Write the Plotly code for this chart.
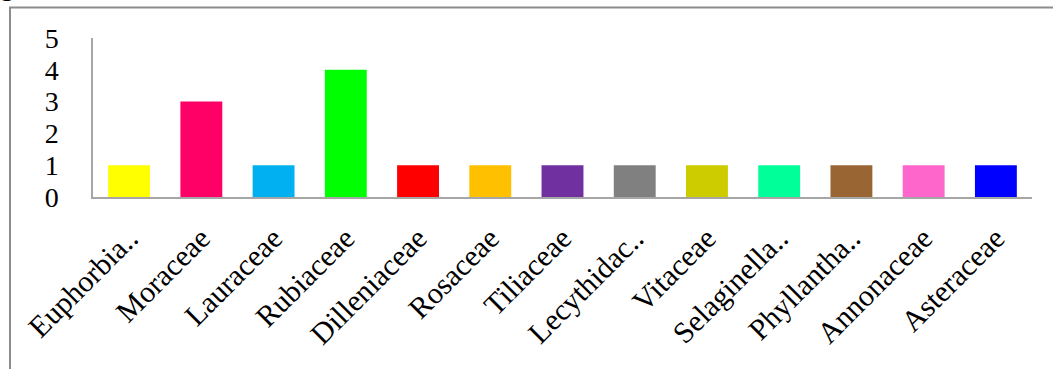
import plotly.graph_objects as go

families = ["Euphorbia..", "Moraceae", "Lauraceae", "Rubiaceae", "Dilleniaceae",
            "Rosaceae", "Tiliaceae", "Lecythidac..", "Vitaceae", "Selaginella..",
            "Phyllantha..", "Annonaceae", "Asteraceae"]
counts = [1, 3, 1, 4, 1, 1, 1, 1, 1, 1, 1, 1, 1]
colors = ["#FFFF00", "#FF0066", "#00B0F0", "#00FF00", "#FF0000",
          "#FFC000", "#7030A0", "#808080", "#CCCC00", "#00FF99",
          "#996633", "#FF66CC", "#0000FF"]
y_ticks = [0, 1, 2, 3, 4, 5]

W, H = 1053, 369
L, R, T, B = 93, 21, 38, 172
pw, ph = W - L - R, H - T - B

def px_x(p):
    return (p - L) / pw

def px_y(p):
    return (H - B - p) / ph

FONT = "Liberation Serif, Times New Roman, serif"

fig = go.Figure(go.Bar(
    x=families, y=counts,
    marker=dict(color=colors, line=dict(width=0)),
    hoverinfo="x+y",
))

fig.update_layout(
    width=W, height=H,
    margin=dict(l=L, r=R, t=T, b=B, pad=0, autoexpand=False),
    paper_bgcolor="white", plot_bgcolor="white",
    bargap=0.42,
    showlegend=False,
    font=dict(family=FONT, color="black"),
    xaxis=dict(
        automargin=False,
        showline=True, linecolor="#a6a6a6", linewidth=1.5,
        showgrid=False, zeroline=False, ticks="",
        tickangle=-45, tickfont=dict(family=FONT, size=30, color="black"),
        ticklabelstandoff=10,
    ),
    yaxis=dict(
        automargin=False,
        range=[0, 5], tickvals=y_ticks, ticktext=[str(v) for v in y_ticks],
        showline=True, linecolor="#a6a6a6", linewidth=1.5,
        showgrid=False, zeroline=False, ticks="",
        tickfont=dict(family=FONT, size=28, color="black"),
        ticklabelstandoff=27,
    ),
    shapes=[dict(
        type="rect", xref="paper", yref="paper",
        x0=px_x(10), x1=px_x(1080), y0=px_y(420), y1=px_y(7.5),
        line=dict(color="#8c8c8c", width=2), fillcolor="rgba(0,0,0,0)",
        layer="below",
    )],
    annotations=[dict(
        text="g", xref="paper", yref="paper",
        x=px_x(-2), y=px_y(3), xanchor="left", yanchor="bottom",
        showarrow=False, font=dict(family=FONT, size=28, color="black"),
    )],
)

fig.write_html("out.html")
